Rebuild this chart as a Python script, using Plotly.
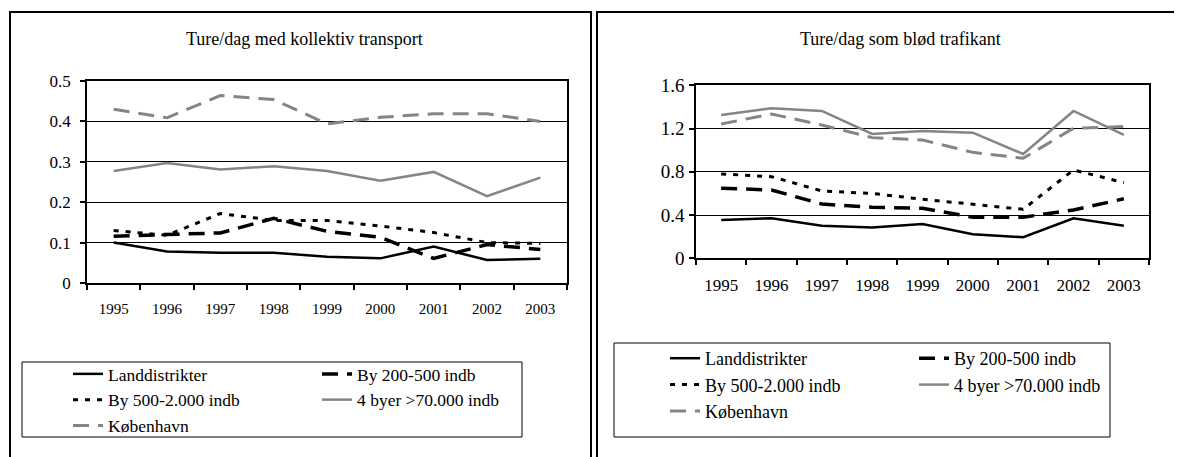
import plotly.graph_objects as go

years = ["1995", "1996", "1997", "1998", "1999", "2000", "2001", "2002", "2003"]
series_names = ["Landdistrikter", "By 200-500 indb", "By 500-2.000 indb",
                "4 byer >70.000 indb", "København"]

# Ture/dag med kollektiv transport
koll_land = [0.100, 0.078, 0.075, 0.075, 0.065, 0.061, 0.090, 0.057, 0.060]
koll_by200 = [0.116, 0.120, 0.124, 0.160, 0.128, 0.113, 0.061, 0.095, 0.083]
koll_by500 = [0.130, 0.118, 0.172, 0.155, 0.155, 0.141, 0.125, 0.100, 0.098]
koll_4byer = [0.277, 0.297, 0.281, 0.289, 0.277, 0.253, 0.275, 0.215, 0.261]
koll_kbh = [0.430, 0.409, 0.464, 0.454, 0.394, 0.410, 0.419, 0.419, 0.400]

# Ture/dag som blød trafikant
bl_land = [0.355, 0.370, 0.300, 0.285, 0.317, 0.222, 0.195, 0.370, 0.300]
bl_by200 = [0.648, 0.632, 0.502, 0.472, 0.463, 0.380, 0.380, 0.447, 0.550]
bl_by500 = [0.780, 0.755, 0.623, 0.600, 0.546, 0.502, 0.453, 0.817, 0.700]
bl_4byer = [1.326, 1.388, 1.363, 1.150, 1.178, 1.162, 0.965, 1.363, 1.141]
bl_kbh = [1.242, 1.335, 1.233, 1.116, 1.094, 0.980, 0.925, 1.203, 1.218]

titles = ["Ture/dag med kollektiv transport", "Ture/dag som blød trafikant"]

OFF = 8  # page body margin
W, H = 1182 - OFF, 457 - OFF
ML = 87 - OFF
MR = W - (1149 - OFF)
GW = W - ML - MR
FONT = "Liberation Serif"


def px(x):
    return (x - OFF - ML) / GW


def py(y):
    return 1 - (y - OFF) / H


styles = [
    dict(color="black", width=2.5, dash="solid"),
    dict(color="black", width=3.5, dash="16px,9px"),
    dict(color="black", width=3, dash="5px,7px"),
    dict(color="#858585", width=2.5, dash="solid"),
    dict(color="#858585", width=3, dash="16px,9px"),
]

fig = go.Figure()
left = [koll_land, koll_by200, koll_by500, koll_4byer, koll_kbh]
right = [bl_land, bl_by200, bl_by500, bl_4byer, bl_kbh]
for name, vals, st in zip(series_names, left, styles):
    fig.add_trace(go.Scatter(x=years, y=vals, name=name, mode="lines", line=st,
                             xaxis="x", yaxis="y", legend="legend"))
for name, vals, st in zip(series_names, right, styles):
    fig.add_trace(go.Scatter(x=years, y=vals, name=name, mode="lines", line=st,
                             xaxis="x2", yaxis="y2", legend="legend2"))

axis_common = dict(showline=True, mirror=True, linecolor="black", linewidth=1.5,
                   ticks="outside", ticklen=5, tickcolor="black", tickwidth=1.5,
                   zeroline=False)

fig.update_layout(
    width=W, height=H,
    margin=dict(l=ML, r=MR, t=0, b=0, autoexpand=False),
    paper_bgcolor="white", plot_bgcolor="white",
    font=dict(family=FONT, color="black"),
    xaxis=dict(domain=[px(87), px(567)], anchor="y", type="category",
               range=[-0.5, 8.5], tickson="boundaries", showgrid=False,
               tickfont=dict(size=15, family=FONT), ticklabelstandoff=11,
               **axis_common),
    yaxis=dict(domain=[py(283), py(81)], anchor="x", range=[0, 0.5], dtick=0.1,
               showgrid=True, gridcolor="black", gridwidth=1,
               tickfont=dict(size=17, family=FONT), ticklabelstandoff=6,
               **axis_common),
    xaxis2=dict(domain=[px(696), px(1149)], anchor="y2", type="category",
                range=[-0.5, 8.5], tickson="boundaries", showgrid=False,
                tickfont=dict(size=17, family=FONT), ticklabelstandoff=11,
                **axis_common),
    yaxis2=dict(domain=[py(258.3), py(85.3)], anchor="x2", range=[0, 1.6],
                tickvals=[0, 0.4, 0.8, 1.2, 1.6],
                ticktext=["0", "0.4", "0.8", "1.2", "1.6"],
                showgrid=True, gridcolor="black", gridwidth=1,
                tickfont=dict(size=19, family=FONT), ticklabelstandoff=1,
                **axis_common),
    legend=dict(orientation="h", x=px(68), xanchor="left", y=py(356), yanchor="top",
                entrywidth=204, entrywidthmode="pixels",
                bgcolor="rgba(0,0,0,0)", borderwidth=0,
                font=dict(size=17.5, family=FONT, color="black")),
    legend2=dict(orientation="h", x=px(1163), xanchor="right", y=py(340), yanchor="top",
                 entrywidth=204, entrywidthmode="pixels",
                 bgcolor="rgba(0,0,0,0)", borderwidth=0,
                 font=dict(size=18, family=FONT, color="black")),
    showlegend=True,
)

fig.add_annotation(text=titles[0], x=px(304), y=py(39), xref="paper", yref="paper",
                   showarrow=False, xanchor="center", yanchor="middle",
                   font=dict(size=18, family=FONT, color="black"))
fig.add_annotation(text=titles[1], x=px(900), y=py(39), xref="paper", yref="paper",
                   showarrow=False, xanchor="center", yanchor="middle",
                   font=dict(size=18, family=FONT, color="black"))

# Panel frames
fig.add_shape(type="rect", xref="paper", yref="paper", x0=px(10), x1=px(591),
              y0=py(470), y1=py(12), line=dict(color="black", width=2), layer="below")
fig.add_shape(type="rect", xref="paper", yref="paper", x0=px(597), x1=px(1195),
              y0=py(470), y1=py(12), line=dict(color="black", width=2), layer="below")
# Legend frames
fig.add_shape(type="rect", xref="paper", yref="paper", x0=px(22), x1=px(522),
              y0=py(437), y1=py(362), line=dict(color="black", width=1), layer="below")
fig.add_shape(type="rect", xref="paper", yref="paper", x0=px(614), x1=px(1110),
              y0=py(437), y1=py(343), line=dict(color="black", width=1), layer="below")

fig.write_html("out.html")
